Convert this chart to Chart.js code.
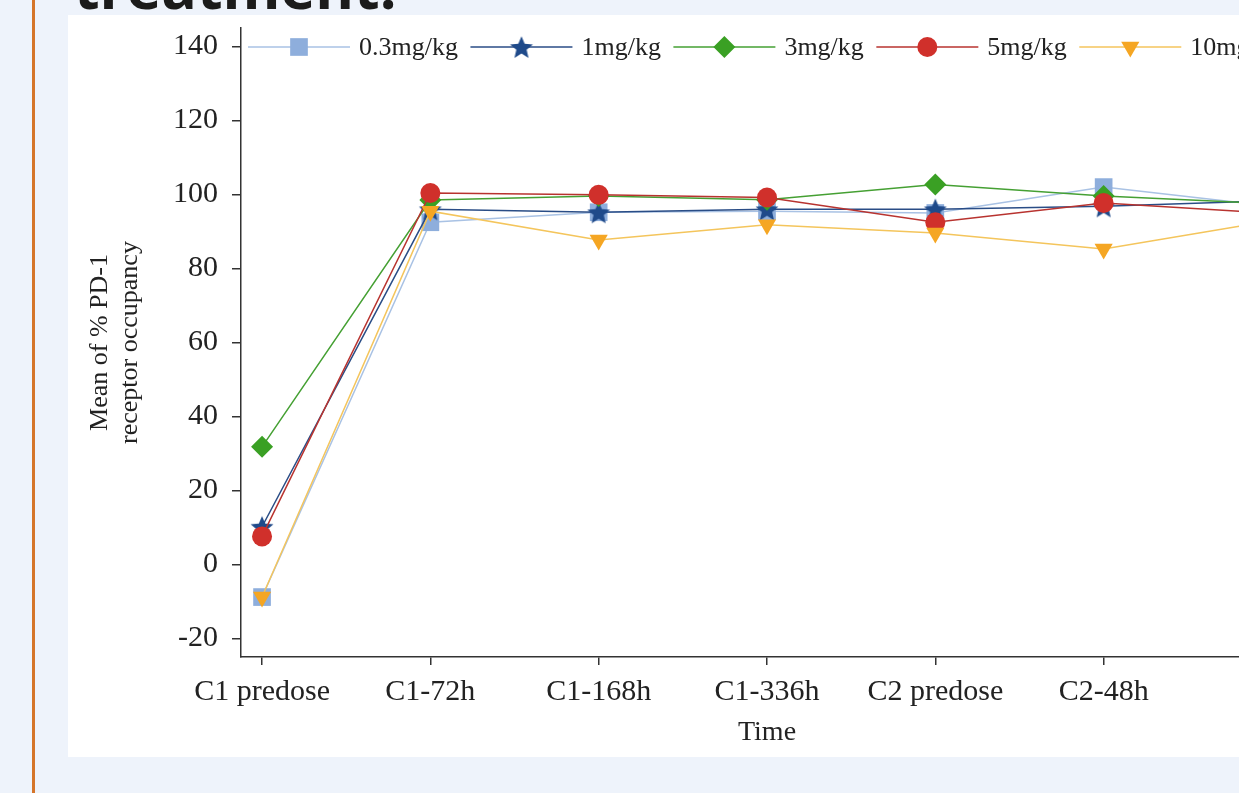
<!DOCTYPE html>
<html>
<head>
<meta charset="utf-8">
<script src="https://cdn.jsdelivr.net/npm/chart.js@4.4.1/dist/chart.umd.min.js"></script>
<style>
  html, body { margin: 0; padding: 0; }
  body {
    width: 1239px; height: 793px; overflow: hidden;
    background: #eef3fb; position: relative;
  }
  .rule { position: absolute; left: 32px; top: 0; width: 3px; height: 793px; background: #d5752a; }
  .heading {
    position: absolute; left: 74px; top: -42px; white-space: nowrap;
    font: 700 59px "Open Sans", sans-serif; line-height: 56px; color: #1b1b1b;
  }
  .panel { position: absolute; left: 68px; top: 15px; width: 1300px; height: 742px; background: #fff; }
  canvas { display: block; }
</style>
</head>
<body>
<div class="rule"></div>
<div class="heading">treatment.</div>
<div class="panel"><canvas id="roChart" width="1300" height="742"></canvas></div>

<script>
const categories = ["C1 predose", "C1-72h", "C1-168h", "C1-336h", "C2 predose", "C2-48h", "EOT"];
const yTicks = [-20, 0, 20, 40, 60, 80, 100, 120, 140];

// mean % PD-1 receptor occupancy per dose
const dose03 = [-8.8, 92.5, 95.2, 95.5, 95.0, 102.0, 96.8];
const dose1  = [10.2, 96.0, 95.2, 96.0, 96.0, 96.8, 98.3];
const dose3  = [31.8, 98.5, 99.6, 98.6, 102.7, 99.6, 97.5];
const dose5  = [7.6, 100.4, 99.9, 99.2, 92.5, 97.7, 94.9];
const dose10 = [-8.8, 95.5, 87.7, 91.8, 89.6, 85.3, 92.9];

const serif = '"Liberation Serif", "Times New Roman", serif';

function makeStar(color, r) {
  const c = document.createElement("canvas");
  const s = Math.ceil(r * 2 + 2);
  c.width = s;
  c.height = s;
  const g = c.getContext("2d");
  g.fillStyle = color;
  g.beginPath();
  for (let i = 0; i < 10; i++) {
    const rad = i % 2 === 0 ? r : r * 0.45;
    const a = -Math.PI / 2 + i * Math.PI / 5;
    const px = s / 2 + rad * Math.cos(a);
    const py = s / 2 + rad * Math.sin(a) + r * 0.1;
    if (i === 0) g.moveTo(px, py); else g.lineTo(px, py);
  }
  g.closePath();
  g.fill();
  return c;
}

function series(label, values, line, marker, style, radius, order, rotation) {
  return {
    label,
    data: values.map((v, i) => ({ x: i, y: v })),
    borderColor: line,
    backgroundColor: marker,
    pointBackgroundColor: marker,
    pointBorderColor: marker,
    pointBorderWidth: 0,
    pointStyle: style,
    pointRadius: radius,
    pointRotation: rotation || 0,
    borderWidth: 1.5,
    tension: 0,
    order
  };
}

/* legend drawn inside the plot: line + marker + label */
const lineLegend = {
  id: "lineLegend",
  afterDraw(chart) {
    const ctx = chart.ctx;
    let x = chart.chartArea.left + 7;
    const y = 32;
    ctx.save();
    ctx.font = "26px " + serif;
    ctx.textBaseline = "middle";
    chart.data.datasets.forEach(ds => {
      ctx.strokeStyle = ds.borderColor;
      ctx.lineWidth = 1.5;
      ctx.beginPath();
      ctx.moveTo(x, y);
      ctx.lineTo(x + 102, y);
      ctx.stroke();
      ctx.fillStyle = ds.pointBackgroundColor;
      Chart.helpers.drawPoint(ctx, {
        pointStyle: ds.pointStyle,
        radius: ds.pointRadius,
        rotation: ds.pointRotation,
        borderWidth: 0
      }, x + 51, y);
      ctx.fillStyle = "#222";
      ctx.fillText(ds.label, x + 111, y + 1);
      x += 111 + ctx.measureText(ds.label).width + 12.5;
    });
    ctx.restore();
  }
};

const ctx = document.getElementById("roChart");

new Chart(ctx, {
  type: "line",
  data: {
    datasets: [
      series("0.3mg/kg", dose03, "#a9c2e4", "#8eaedc", "rect", 12.5, 4),
      series("1mg/kg", dose1, "#2a4d86", "#1f4a8a", makeStar("#1f4a8a", 12), 11, 3),
      series("3mg/kg", dose3, "#45a033", "#3aa024", "rectRot", 11, 2),
      series("5mg/kg", dose5, "#b8332f", "#d0302b", "circle", 10, 1),
      series("10mg/kg", dose10, "#f4c55c", "#f5a623", "triangle", 10.5, 0, 180)
    ]
  },
  options: {
    responsive: false,
    animation: false,
    devicePixelRatio: 1,
    layout: { padding: { top: 13, right: 75, left: 0, bottom: 0 } },
    plugins: {
      legend: { display: false },
      tooltip: { enabled: false }
    },
    scales: {
      x: {
        type: "linear",
        min: -0.125,
        max: 6.125,
        afterBuildTicks: scale => { scale.ticks = categories.map((c, i) => ({ value: i })); },
        afterFit: scale => { scale.height = 100; },
        ticks: {
          color: "#222",
          font: { family: serif, size: 30 },
          padding: 9,
          maxRotation: 0,
          autoSkip: false,
          callback: v => categories[v]
        },
        grid: { drawOnChartArea: false, drawTicks: true, tickLength: 8, color: "#333", lineWidth: 1.5 },
        border: { display: true, color: "#333", width: 1.5 },
        title: {
          display: true,
          text: "Time",
          color: "#222",
          font: { family: serif, size: 28 },
          padding: { top: 0, bottom: 8 }
        }
      },
      y: {
        min: -25,
        max: 145,
        afterBuildTicks: scale => { scale.ticks = yTicks.map(v => ({ value: v })); },
        afterFit: scale => {
          scale.width = 173;
          scale.paddingTop = 0;
          scale.paddingBottom = 0;
        },
        ticks: {
          color: "#222",
          font: { family: serif, size: 30 },
          padding: 14
        },
        grid: { drawOnChartArea: false, drawTicks: true, tickLength: 9, color: "#333", lineWidth: 1.5 },
        border: { display: true, color: "#333", width: 1.5 },
        title: {
          display: true,
          text: ["Mean of % PD-1", "receptor occupancy"],
          color: "#222",
          font: { family: serif, size: 26, lineHeight: 1.15 },
          padding: { top: 17, bottom: 0 }
        }
      }
    }
  },
  plugins: [lineLegend]
});
</script>
</body>
</html>
